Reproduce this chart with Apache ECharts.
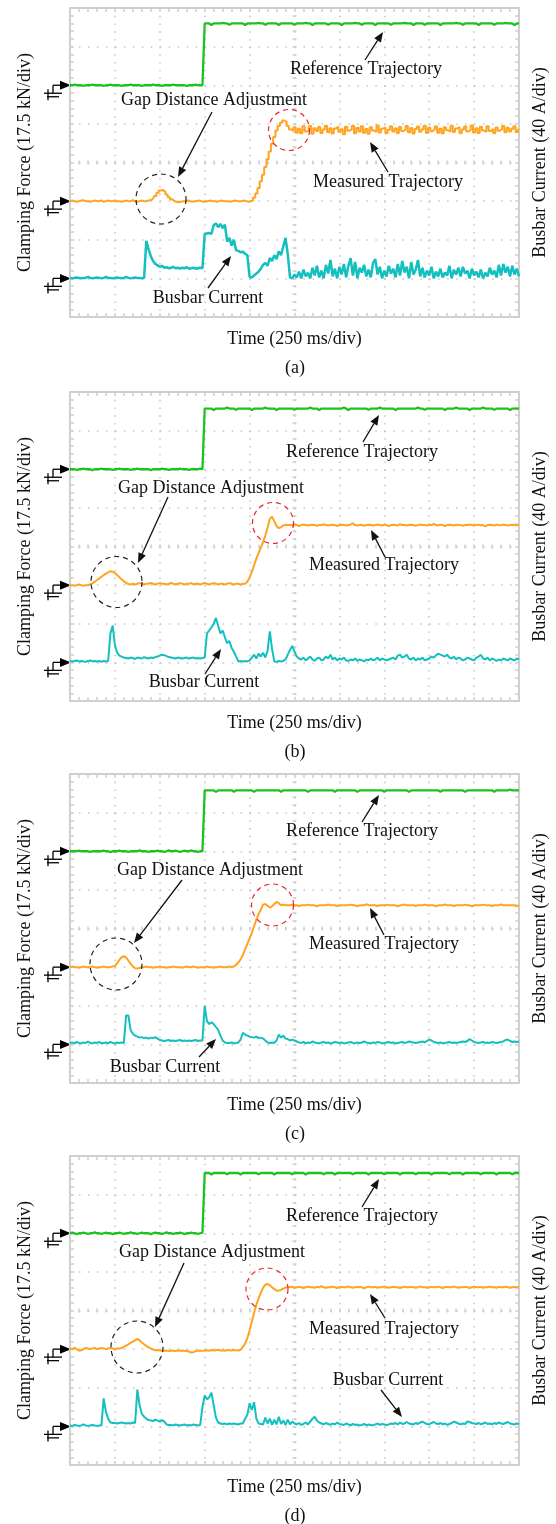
<!DOCTYPE html>
<html>
<head>
<meta charset="utf-8">
<script src="https://cdn.jsdelivr.net/npm/echarts@6/dist/echarts.min.js"></script>
<style>
  html, body { margin: 0; padding: 0; background: #ffffff; }
  #chart { width: 556px; height: 1524px; }
</style>
</head>
<body>
<div id="chart"></div>
<script>
// Oscilloscope captures: reference / measured clamping force and busbar current.
// Every trace is stored as samples taken every SAMPLE_MS milliseconds (0 .. 2500 ms).
const SAMPLE_MS = 12.5;
const TIME_MAX_MS = 2500;
const TIME_DIV_MS = 250;      // 250 ms/div
const FORCE_DIV_KN = 17.5;    // 17.5 kN/div
const CURRENT_DIV_A = 40;     // 40 A/div
const PANEL_LABELS = ['(a)', '(b)', '(c)', '(d)'];
const TRACE_NAMES = ['Reference Trajectory', 'Measured Trajectory', 'Busbar Current'];

// ---------- (a) ----------
const refA = [
  0,0,0.3,0,0,0,-0.3,0,0,0,0.3,0,0,0,0,-0.3,0,0,0.3,0,
  0,0,0,-0.3,0,0,0,0.3,0,0,0,0,-0.3,0,0,0,0,0.3,0,0,
  0,-0.3,0,0,0,0,0.3,0,0,0,0,0,-0.3,0,0,0,0.3,0,0,0,
  28,28,28,27.3,28,28,28,28,28.3,28,28,27.4,28,28,28,28,28,28,27.3,28,
  28,28,28,28,28.3,28,28,27.4,28,28,28,28,28,27.3,28,28,28,28,28,28,
  27.4,28,28,28,28,28.3,28,28,27.3,28,28,28,28,28,28,27.4,28,28,28,28,
  28,27.3,28,28,28,28,28,28.3,28,28,27.4,28,28,28,28,28,27.3,28,28,28,
  28,28,28,27.4,28,28,28,28,28,28.3,28,28,28,27.3,28,28,28,28,27.4,28,
  28,28,28,28,28,27.3,28,28,28,28,28,28,28.3,28,28,27.4,28,28,28,28,
  28,28,27.3,28,28,28,28,28,28,27.4,28,28,28,28,28.3,28,28,28,27.3,28,
  28
];
const measA = [
  0,0.3,0,-0.3,0,0.3,0.4,0,0,-0.3,0,0.3,0,0,0.3,-0.3,0,0.3,0,0,
  0.3,0,0,-0.3,0,0.3,0,0,0.4,0,-0.3,0,0.3,0,0,0.3,
  0.5,1.2,2.3,3.8,4.8,5,4.2,3,1.8,0.8,0.1,-0.4,-0.5,-0.3,0,
  0,0.3,0,-0.3,0,0,0.3,0,-0.3,0, 0,0.3,0,0,-0.3,0,0.3,0,0,0, -0.3,0,0.3,0,0,0,0.3,0,-0.3,0,
  0.3,1.5,3.5,6,9,12,15.5,19,22.5,26,29,32,34,35.5,36.5,36,34,32.5,32,
  33.5,31,32.8,30.8,33.9,31.5,32.2,34,30.5,33,31.8,33.6,30.9,32.5,34.2,31.2,33,30.6,32.9,33.8,
  31.4,32.6,30.3,33.7,31.9,32.4,34.1,30.8,33.2,31.6,33.9,31,32.7,30.5,33.5,32,31.3,34.3,31.1,32.8,
  33.4,30.7,32.3,33.9,31.5,32.9,30.9,33.6,31.8,32.2,34,31.2,33.1,30.6,32.7,33.8,31.4,32.5,34.2,30.9,
  33.3,31.7,32.6,33.9,31,32.8,30.8,33.5,32.1,31.5,34.1,31.3,32.9,33.6,30.7,32.4,33.8,31.6,32.2,34.3,
  31.1,33,30.9,33.7,32,31.4,33.9,31.8,32.7,30.8,33.4,31.9,32.6,34,31.2,33.3,31.5,32.8,33.9,31.3,32.5
];
const curA = [
  0.5,0,0.5,1,0.5,0,0.5,0.5,1.5,0.5,0,0.5,1,0.5,0,0.5,1.5,0.5,0.5,0,
  0.5,1,0.5,0,0.5,1.5,0.5,0,0.5,1,0.5,0.5,0,0.5,
  39,30,23,18,15,13.5,12,13,11,11.5,10.5,11,12,10.5,11,10,11,10.5,11.5,10,10.5,11,10,10.5,11,10.5,
  46,46.5,47,46,55,57,53,56.5,52,55.5,38,42,34,40,29,28.5,27,27.5,25.5,24,
  1.5,1,3,5,7,10,14,16,13,21,18,24,20,28,24,33,42,25,1,
  0,4,1,7,0,9,2,6,0,11,3,13,1,8,0,14,5,19,2,10,
  0,12,4,15,1,13,21,3,17,0,11,6,14,2,9,1,16,20,4,12,
  0,8,2,13,5,10,1,15,3,18,6,12,0,17,4,9,19,2,11,1,
  8,3,12,0,7,2,10,1,6,3,13,0,9,4,11,2,12,5,8,0,
  10,3,7,1,9,0,6,2,11,4,8,1,14,3,15,6,12,2,13,4,10,2
];

// ---------- (b) ----------
const refB = [
  0,0,0,-0.3,0,0,0.3,0,0,0,-0.4,0,0,0,0.3,0,0,0,0,-0.3,
  0,0,0.3,0,0,0,0,-0.3,0,0,0.3,0,0,0,0,0,-0.4,0,0,0,
  0,0.3,0,0,-0.3,0,0,0,0,0.3,0,0,0,-0.3,0,0,0,0,0.3,0,
  27.5,27.5,27.5,27.5,26.8,27.5,27.5,27.5,27.5,27.5,27.9,27.5,27.5,27.5,26.9,27.5,27.5,27.5,27.5,27.5,
  27.5,26.8,27.5,27.5,27.5,27.5,27.5,27.9,27.5,27.5,27.5,27.5,26.8,27.5,27.5,27.5,27.5,27.5,27.5,27.5,
  26.9,27.5,27.5,27.5,27.5,27.5,27.5,27.9,27.5,27.5,27.5,26.8,27.5,27.5,27.5,27.5,27.5,27.5,27.5,27.5,
  27.5,27.5,27.9,27.5,26.8,27.5,27.5,27.5,27.5,27.5,27.5,27.5,27.5,26.9,27.5,27.5,27.5,27.5,27.9,27.5,
  27.5,27.5,27.5,27.5,27.5,26.8,27.5,27.5,27.5,27.5,27.5,27.5,27.5,27.5,27.5,27.9,27.5,27.5,26.9,27.5,
  27.5,27.5,27.5,27.5,27.5,27.5,27.5,26.8,27.5,27.5,27.5,27.5,27.9,27.5,27.5,27.5,27.5,27.5,26.8,27.5,
  27.5,27.5,27.5,27.5,27.9,27.5,27.5,27.5,27.5,26.9,27.5,27.5,27.5,27.5,27.5,27.5,26.8,27.5,27.5,27.5,
  27.5
];
const measB = [
  -0.3,0,-0.3,0,0.3,0,-0.3,0,0,0.3,
  0.8,1.5,2.3,3,3.8,4.5,5.2,5.8,6.3,6.1,5.5,4.6,3.6,2.6,1.7,1,0.5,0.3,
  0.6,0.3,0.6,0.9,0.6,0.3,0.6,0.6,1,0.6,0.3,0.6,0.9,0.6,0.6,0.3,0.6,1,0.6,0.3,
  0.6,0.9,0.6,0.3,0.6,0.6,0.9,0.3,0.6,0.6,0.3,0.6,1,0.6,0.3,0.6,0.9,0.6,0.3,0.6,
  0.6,0.3,0.6,0.9,0.6,0.3,0.6,0.6,0.3,0.6,
  0.6,1.5,3.5,6,9,12,14.5,17,19.5,22.5,26,30,31,29,26.8,25.8,26.2,27,27.3,27.2,
  27.2,27,27.4,27.2,26.8,27.2,27.5,27.2,27,27.2, 27.4,27.2,26.9,27.2,27.2,27.6,27.2,27,27.2,27.3,
  27.2,26.8,27.2,27.4,27.2,27,27.2,27.5,28,27.2, 27,27.2,27.3,26.9,27.2,27.4,27.2,27,27.2,27.5,
  27.2,27,27.4,27.2,26.7,27.2,27.3,27.2,27,27.6, 27.2,27.3,27,27.2,27.4,27.2,26.9,27.2,27.5,27.2,
  27.2,27,27.3,27.2,27.8,27.2,27,27.4,27.2,26.8, 27.2,27.3,27.2,27,27.4,27.2,27.2,26.9,27.3,27.2,
  27.5,27.2,27,27.2,27.4,27.1,27.2,26.6,27.2,27.3, 27.2,27,27.4,27.2,27.1,27.5,27.2,27,27.2,27.3,
  27.2,27.1,27.2
];
const curB = [
  1.5,1,1.5,2,1,1.5,1,0.5,1.5,2,1,1.5,1,1.5,0.5,1.5,1,
  1.5,30,38,18,10,7,6,5,4.5,
  4,5,4.5,3.5,5,4.5,4,5.5,4.5,4,5,4.5,5.5,6,7,8,7.5,6.5,5.5,5,4.5,4,5,4.5,4,4.5,5,4,4.5,5,4,4.5,4,4.5,
  5,30,33,36,40,46,38,30,33,26,20,22,15,11,6,1,1.5,1,1.5,1,
  2,5,8,4,9,6,10,5,12,32,14,1,0.5,1.5,1,1.5,3,8,13,17,11,6,4,
  3,5,2,4,6,3,1.5,4,5,2,3,6,4,8,3,5,2,4,3,5,
  2,1.5,3,2,4,1.5,3,2,1,3,2,4,2,3,5,2,4,3,2,3,
  4,5,3,7,8,5,6,8,4,3,5,2,4,3,5,2,3,4,6,5,
  7,9,8,7,6,8,5,4,6,3,5,4,2,3,5,4,3,2,5,6,
  8,4,3,5,2,4,3,1.5,3,2,4,3,2,4,3,2,4,3
];

// ---------- (c) ----------
const refC = [
  0,0,0,0,0.3,0,0,0,0,-0.3,0,0,0,0,0,0.3,0,0,-0.4,0,
  0,0,0.3,0,0,0,-0.3,0,0,0,0,0.4,0,0,0,-0.3,0,0,0,0.3,
  0,0,-0.3,0,0.4,0,0,0.3,0,-0.3,0,0.3,0,0,0.4,0,0,-0.3,0,0,
  27.6,27.6,27.6,27.6,27.6,26.9,27.6,27.6,27.6,27.6,27.6,27.6,27.6,27,27.6,27.6,27.6,27.6,27.6,27.6,
  27.6,27.6,26.9,27.6,27.6,27.6,27.6,27.6,27.6,27.6,27.6,27.6,27.6,27.6,27,27.6,27.6,27.6,27.6,27.6,
  27.6,27.6,27.6,27.6,27.6,27.6,26.9,27.6,27.6,27.6,27.6,27.6,27.6,27.6,27.6,27.6,27.6,27.6,27,27.6,
  27.6,27.6,27.6,27.6,27.6,27.6,27.6,27.6,26.9,27.6,27.6,27.6,27.6,27.6,27.6,27.6,27.6,27.6,27.6,27.6,
  27,27.6,27.6,27.6,27.6,27.6,27.6,27.6,27.6,27.6,27.6,26.9,27.6,27.6,27.6,27.6,27.6,27.6,27.6,27.6,
  27.6,27.6,27.6,27.6,27.6,27,27.6,27.6,27.6,27.6,27.6,27.6,27.6,27.6,27.6,27.6,26.9,27.6,27.6,27.6,
  27.6,27.6,27.6,27.6,27.6,27.6,27.6,27.6,27.6,27,27.6,27.6,27.6,27.6,27.6,27.6,28,27.6,27.6,27.6,
  27.6
];
const measC = [
  0,0.3,0,0,-0.3,0,0.3,0,0,0,0.3,0,-0.3,0,0,0.3,0,0,0,0.3,
  0.5,1.8,3.3,4.5,5,4.3,3,1.5,0.3,-0.5,-0.6,-0.4,0,
  0,0.3,0,0,-0.3,0,0,0.3,0,0, -0.3,0,0,0.3,0,0,0,-0.3,0,0.3,
  0,0,0.3,0,-0.3,0,0,0,0.3,0, 0,-0.3,0,0,0.3,0,0,0,0.3,0,
  0.3,1,2.2,3.5,5.5,8,10.5,13,15.5,18.5,21.5,24,26,28.3,28.6,27.8,27,27.5,28.6,29.5,29,28,28.3,28,
  28,28,28.3,28,28,27.7,28,28,28,28.3, 28,28,28,27.6,28,28,28,28,28.4,28,
  28,28,27.7,28,28,28,28,28,28.3,28, 28,27.6,28,28,28,28.5,28,28,28,28,
  27.7,28,28,28,28.3,28,28,28,28,27.6, 28,28,28.4,28,28,28,28,27.7,28,28,
  28,28.3,28,28,28,28,27.6,28,28,28, 28.4,28,28,28,27.7,28,28,28,28,28.3,
  28,28,27.6,28,28,28,28,28.3,28,28, 28,27.7,28,28,28,28.4,28,28,28,28,
  28,28,27.7,28
];
const curC = [
  1.5,2,1,2.5,1.5,1,2,1.5,3,1.5,1,2,1.5,2.5,1,1.5,2,1,2.5,1.5,1,2,1.5,2,
  1.5,30,30,15,11,9,8,7,7.5,6.5,7,6,7,6.5,7.5,6,4.5,4,3.5,4,4.5,3.5,4,3.5,4,4.5,3.5,4,3.5,4,3.5,4,4.5,3.5,4,
  4,40,24,21,23,21,18,15,9,4,2,1.5,
  1.5,2,1,1.5,2,
  5,12,10,9,8,7.5,7,8,6.5,7,6,4,2,1.5,2,1.5,
  4,10,7,9,6,5.5,4,5,4,3,
  2,1.5,2.5,1,2,1.5,3,2,1.5,1,2,2.5,1.5,2,1,1.5,2.5,2,1.5,2,
  1,1.5,2,2.5,1.5,1,2,1.5,2,3,2,1.5,1,2,1.5,2.5,2,1,1.5,2,
  2.5,1.5,2,1,1.5,2,2.5,1.5,2,3,2.5,2,1.5,2,2.5,3,2,3.5,5,4,
  2.5,2,1.5,2,1,1.5,2,2.5,1.5,2,1.5,2,2.5,3,2.5,3.5,5.5,4,2.5,2,
  1.5,2,2.5,1.5,2,1.5,2.5,2,1.5,2,2.5,3,4.5,5,3.5,2.5,3,2.5,3
];

// ---------- (d) ----------
const refD = [
  0,0.3,0,-0.4,0,0,0.3,0,-0.3,0,0,0.4,0,0,-0.3,0,0.3,0,0,-0.4,
  0,0,0.3,0,-0.3,0,0,0.4,0,0,-0.3,0,0.3,0,0,0,-0.4,0,0.3,0,
  0,-0.3,0,0.4,0,0,-0.3,0,0,0.3,0,-0.4,0,0,0.3,0,0,-0.3,0,0.3,
  27.3,27.3,27.3,26.6,27.3,27.3,27.3,27.3,27.3,27.3,26.7,27.3,27.3,27.3,27.3,27.3,26.6,27.3,27.3,27.3,
  27.3,27.3,27.3,27.3,26.7,27.3,27.3,27.3,27.3,27.3,27.3,26.6,27.3,27.3,27.3,27.3,27.3,27.3,27.3,26.7,
  27.3,27.3,27.3,27.3,27.3,26.6,27.3,27.3,27.3,27.3,27.3,27.3,27.3,26.7,27.3,27.3,27.3,27.3,26.6,27.3,
  27.3,27.3,27.3,27.3,27.3,27.3,26.7,27.3,27.3,27.3,27.3,27.3,27.3,26.6,27.3,27.3,27.3,27.3,27.3,27.3,
  26.7,27.3,27.3,27.3,27.3,27.3,27.3,26.6,27.3,27.3,27.3,27.3,27.3,27.3,26.7,27.3,27.3,27.3,27.3,27.3,
  27.3,26.6,27.3,27.3,27.3,27.3,27.3,27.3,27.3,26.7,27.3,27.3,27.3,27.3,27.3,26.6,27.3,27.3,27.3,27.3,
  27.3,27.3,27.3,26.7,27.3,27.3,27.3,27.3,27.3,27.3,26.6,27.3,27.3,27.3,27.3,27.3,27.3,26.7,27.3,27.3,
  27.3
];
const measD = [
  0.3,0,0.5,0,-0.7,-0.5,0,0.5,0.3,0,0.3,0.5,0,0.3,0.5,0.3,0,0.3,0.5,0.3,0,0.3,
  0.3,0.5,1,1.6,2.2,2.8,3.4,4,4.6,4,3,2.2,1.5,0.8,0.3,-0.2,-0.5,-0.4,
  -0.6,-0.8,-0.6,-0.7,-0.9,-0.6,-0.7,-0.8,-0.6,-0.7,-0.6,-0.8,-0.7,-1.2,-1.5,-1.4,-0.9,-0.7,-0.6,-0.8,-0.6,
  -0.5,-0.7,-0.4,-0.6,-0.5,-0.3,-0.6,-0.5,-0.7,-0.4,-0.5,-0.6,-0.4,-0.5,-0.6,
  -0.3,1,2.5,5,8.5,12.5,16.5,20,23,25.5,27.8,29.2,29.5,29,28,27.2,26.6,26.5,26.8,27.4,27.9,28,
  28,28.3,27.8,28,28.2,28,27.7,28,28.3,28, 28,27.8,28.2,28,28.5,28,27.8,28,28,28.3,
  28,27.7,28,28.2,28,28,28.4,28,27.8,28, 28.2,28,28,27.6,28,28.3,28,28,28.2,27.8,
  28,28,28.4,28,27.8,28,28.2,28,28,27.7, 28,28.3,28,28,28.2,28,27.8,28,28.4,28,
  28,27.8,28,28.2,28,28,28.3,28,27.7,28, 28.2,28,28,28.4,28,27.8,28,28,28.2,28,
  27.7,28,28.3,28,28,28.2,27.8,28,28,28.3, 28,28,27.8,28.2,28,28,28.3,28,27.8,28,
  28.2,28,28
];
const curD = [
  1,0.5,1.5,1,0.5,1,2,1,0.5,1,1.5,1,0.5,1,1,
  29,15,8,4,3.5,3.5,3,3.5,4,3.5,3,3.5,3,4,3.5,
  38,22,13,10,8,6.5,6,5.5,7,6,5,6.5,5,2,1.5,
  1.5,1,2,1.5,1,1.5,2,1,1.5,1,2,1.5,1,1.5,
  20,32,28,30,35,22,9,4,
  3,2.5,3,2,3,2.5,3,2.5,2,3,
  3,8,12,24,17,25,8,3,2.5,
  2,9,3,8,1.5,7,2,10,2.5,6,1.5,7,2,5,3,
  2,3.5,1.5,2.5,4,2,5,8,10,6,4,3,2,3.5,2.5,1.5,3,2,4,2.5,
  2,1.5,3,2,1,2.5,1.5,2,1,1.5,2.5,1,2,1.5,1,2,3,1.5,2.5,2,
  1.5,2,3,2.5,3.5,2,4,2.5,3,4.5,3,2.5,2,3.5,2.5,4,5,3.5,2.5,2,
  3.5,4.5,3,2.5,3.5,2,3,1.5,2.5,3.5,5,4,3,2,3,2.5,5,4.5,3.5,3,
  2.5,3.5,2,3,4,2.5,3,2,3.5,2.5,4,3,2.5,3.5,4.5,3,2.5,2,3,2.5
];

const PANELS = [
  { ref: refA, meas: measA, cur: curA },
  { ref: refB, meas: measB, cur: curB },
  { ref: refC, meas: measC, cur: curC },
  { ref: refD, meas: measD, cur: curD }
];

// ---------- layout ----------
const FONT = '"Liberation Serif", "Times New Roman", serif';
const GRID_LEFT = 70, GRID_W = 449, GRID_H = 309;
const PANEL_TOPS = [8, 392, 774, 1156];
const DIV_X = GRID_W / 10, DIV_Y = GRID_H / 8;
const COLORS = { ref: '#1ec21e', meas: '#ffa41c', cur: '#14bfbf' };
const FRAME = '#cfcfcf', DOTS = '#c4c4c4';
// panel (a): stair-step measured trace and a heavier current trace
const TRACE_STYLE = [
  { measStep: 'middle', curWidth: 2.5 },
  { measStep: false, curWidth: 2 },
  { measStep: false, curWidth: 2 },
  { measStep: false, curWidth: 2 }
];

// annotation placement per panel: [x, y] of text centres, arrows [x1, y1, x2(head), y2(head)], circles [cx, cy, r]
const NOTES = [
  { ref: [366, 69, 365, 60, 383, 32], gap: [214, 100, 212, 112, 178, 177], meas: [388, 182, 388, 172, 370, 142],
    cur: [208, 298, 208, 288, 231, 256], black: [161, 199, 25], red: [289, 130, 20.5] },
  { ref: [362, 452, 363, 442, 379, 415], gap: [211, 488, 168, 497, 138, 563], meas: [384, 565, 385, 557, 371, 530],
    cur: [204, 682, 205, 674, 221, 649], black: [116.5, 582, 25.5], red: [273, 523, 20.5] },
  { ref: [362, 831, 362, 822, 379, 795], gap: [210, 870, 182, 880, 134, 943], meas: [384, 944, 384, 935, 370, 908],
    cur: [165, 1067, 199, 1057, 216, 1039], black: [116, 964, 26], red: [272.5, 905, 21] },
  { ref: [362, 1216, 362, 1207, 379, 1179], gap: [212, 1252, 184, 1263, 155, 1327], meas: [384, 1329, 385, 1318, 370, 1294],
    cur: [388, 1380, 381, 1390, 402, 1417], black: [137, 1347, 26], red: [267, 1289, 21] }
];

const toPoints = (values) => values.map((v, i) => [i * SAMPLE_MS, v]);

const tickCommon = {
  axisTick: { show: true, inside: true, length: 4, lineStyle: { color: FRAME, width: 1.5 } },
  minorTick: { show: true, splitNumber: 5, length: 4, lineStyle: { color: FRAME, width: 1.5 } },
  axisLabel: { show: false }
};
const nameStyle = { fontFamily: FONT, fontSize: 18, color: '#111' };

const grids = [], xAxes = [], yAxes = [], series = [], graphics = [];

PANELS.forEach((panel, p) => {
  const top = PANEL_TOPS[p];
  grids.push({ left: GRID_LEFT, top: top, width: GRID_W, height: GRID_H, show: false, outerBoundsMode: 'none' });

  const xBase = { gridIndex: p, type: 'value', min: 0, max: TIME_MAX_MS, interval: TIME_DIV_MS };
  // bottom frame + vertical dotted grid
  xAxes.push(Object.assign({}, xBase, tickCommon, {
    position: 'bottom',
    axisLine: { show: true, onZero: false, lineStyle: { color: FRAME, width: 2 } },
    splitLine: { show: true, lineStyle: { color: DOTS, width: 1.5, type: [1.5, DIV_Y / 5 - 1.5] } },
    name: 'Time (250 ms/div)', nameLocation: 'middle', nameGap: 13, nameTextStyle: nameStyle
  }));
  // top frame
  xAxes.push(Object.assign({}, xBase, tickCommon, {
    position: 'top',
    axisLine: { show: true, onZero: false, lineStyle: { color: FRAME, width: 2 } },
    splitLine: { show: false }
  }));
  // ticks on the horizontal centre line
  xAxes.push(Object.assign({}, xBase, tickCommon, {
    position: 'bottom', offset: -(4 * DIV_Y) + 2,
    axisLine: { show: false, onZero: false },
    splitLine: { show: false }
  }));

  // force axis of the reference channel (ground two divisions below the top)
  yAxes.push(Object.assign({}, tickCommon, {
    gridIndex: p, type: 'value', position: 'left',
    min: -6 * FORCE_DIV_KN, max: 2 * FORCE_DIV_KN, interval: FORCE_DIV_KN,
    axisLine: { show: true, onZero: false, lineStyle: { color: FRAME, width: 2 } },
    splitLine: { show: true, lineStyle: { color: DOTS, width: 1.5, type: [1.5, DIV_X / 5 - 1.5] } },
    name: 'Clamping Force (17.5 kN/div)', nameLocation: 'middle', nameRotate: 90, nameGap: 36,
    nameTextStyle: nameStyle
  }));
  // force axis of the measured channel (ground five divisions below the top)
  yAxes.push({
    gridIndex: p, type: 'value', show: false,
    min: -3 * FORCE_DIV_KN, max: 5 * FORCE_DIV_KN, interval: FORCE_DIV_KN
  });
  // current axis (ground one division above the bottom), right frame
  yAxes.push(Object.assign({}, tickCommon, {
    gridIndex: p, type: 'value', position: 'right',
    min: -1 * CURRENT_DIV_A, max: 7 * CURRENT_DIV_A, interval: CURRENT_DIV_A,
    axisLine: { show: true, onZero: false, lineStyle: { color: FRAME, width: 2 } },
    splitLine: { show: false },
    name: 'Busbar Current (40 A/div)', nameLocation: 'middle', nameRotate: 90, nameGap: 12,
    nameTextStyle: nameStyle
  }));
  // ticks on the vertical centre line
  yAxes.push(Object.assign({}, tickCommon, {
    gridIndex: p, type: 'value', position: 'left', offset: -(5 * DIV_X) + 2,
    min: -6 * FORCE_DIV_KN, max: 2 * FORCE_DIV_KN, interval: FORCE_DIV_KN,
    axisLine: { show: false, onZero: false },
    splitLine: { show: false }
  }));

  const line = (name, data, yIdx, color, width, z, step) => ({
    name: name, type: 'line', xAxisIndex: p * 3, yAxisIndex: p * 4 + yIdx,
    data: toPoints(data), showSymbol: false, symbol: 'none', silent: true, step: step,
    lineStyle: { color: color, width: width }, z: z, animation: false
  });
  const st = TRACE_STYLE[p];
  series.push(line(TRACE_NAMES[2], panel.cur, 2, COLORS.cur, st.curWidth, 3, false));
  series.push(line(TRACE_NAMES[1], panel.meas, 1, COLORS.meas, 2, 4, st.measStep));
  series.push(line(TRACE_NAMES[0], panel.ref, 0, COLORS.ref, 2.3, 5, false));

  // ground markers of the three channels
  [2, 5, 7].forEach((k) => {
    const gy = top + k * DIV_Y;
    graphics.push(
      { type: 'line', shape: { x1: 53, y1: gy, x2: 61, y2: gy }, style: { stroke: '#000', lineWidth: 1.3 } },
      { type: 'polygon', shape: { points: [[71, gy], [60, gy - 4.5], [60, gy + 4.5]] }, style: { fill: '#000' } },
      { type: 'line', shape: { x1: 53, y1: gy, x2: 53, y2: gy + 8 }, style: { stroke: '#000', lineWidth: 1.3 } },
      { type: 'line', shape: { x1: 44, y1: gy + 8, x2: 62, y2: gy + 8 }, style: { stroke: '#000', lineWidth: 1.3 } },
      { type: 'line', shape: { x1: 47, y1: gy + 11.5, x2: 59, y2: gy + 11.5 }, style: { stroke: '#000', lineWidth: 1.3 } },
      { type: 'line', shape: { x1: 48, y1: gy + 4, x2: 48, y2: gy + 15 }, style: { stroke: '#000', lineWidth: 1.3 } }
    );
  });

  // callouts
  const n = NOTES[p];
  const label = (txt, x, y) => graphics.push({
    type: 'text', x: x, y: y, z: 20,
    style: { text: txt, font: '18px ' + FONT, fill: '#111', align: 'center', verticalAlign: 'middle' }
  });
  const arrow = (x1, y1, x2, y2) => {
    const a = Math.atan2(y2 - y1, x2 - x1), L = 10, W = 4;
    const bx = x2 - L * Math.cos(a), by = y2 - L * Math.sin(a);
    graphics.push(
      { type: 'line', z: 20, shape: { x1: x1, y1: y1, x2: bx, y2: by }, style: { stroke: '#111', lineWidth: 1.3 } },
      { type: 'polygon', z: 20, shape: { points: [[x2, y2],
          [bx + W * Math.sin(a), by - W * Math.cos(a)], [bx - W * Math.sin(a), by + W * Math.cos(a)]] },
        style: { fill: '#111' } }
    );
  };
  [['ref', 'Reference Trajectory'], ['gap', 'Gap Distance Adjustment'],
   ['meas', 'Measured Trajectory'], ['cur', 'Busbar Current']].forEach(([key, txt]) => {
    const v = n[key];
    label(txt, v[0], v[1]);
    arrow(v[2], v[3], v[4], v[5]);
  });
  graphics.push(
    { type: 'circle', z: 20, shape: { cx: n.black[0], cy: n.black[1], r: n.black[2] },
      style: { fill: 'none', stroke: '#222', lineWidth: 1.2, lineDash: [5, 4] } },
    { type: 'circle', z: 20, shape: { cx: n.red[0], cy: n.red[1], r: n.red[2] },
      style: { fill: 'none', stroke: '#e8262c', lineWidth: 1.2, lineDash: [5, 4] } }
  );
  label(PANEL_LABELS[p], 295, top + GRID_H + 51);
});

const chart = echarts.init(document.getElementById('chart'), null, { renderer: 'canvas', width: 556, height: 1524 });
chart.setOption({
  animation: false,
  backgroundColor: '#ffffff',
  grid: grids,
  xAxis: xAxes,
  yAxis: yAxes,
  series: series,
  graphic: graphics
});
</script>
</body>
</html>
